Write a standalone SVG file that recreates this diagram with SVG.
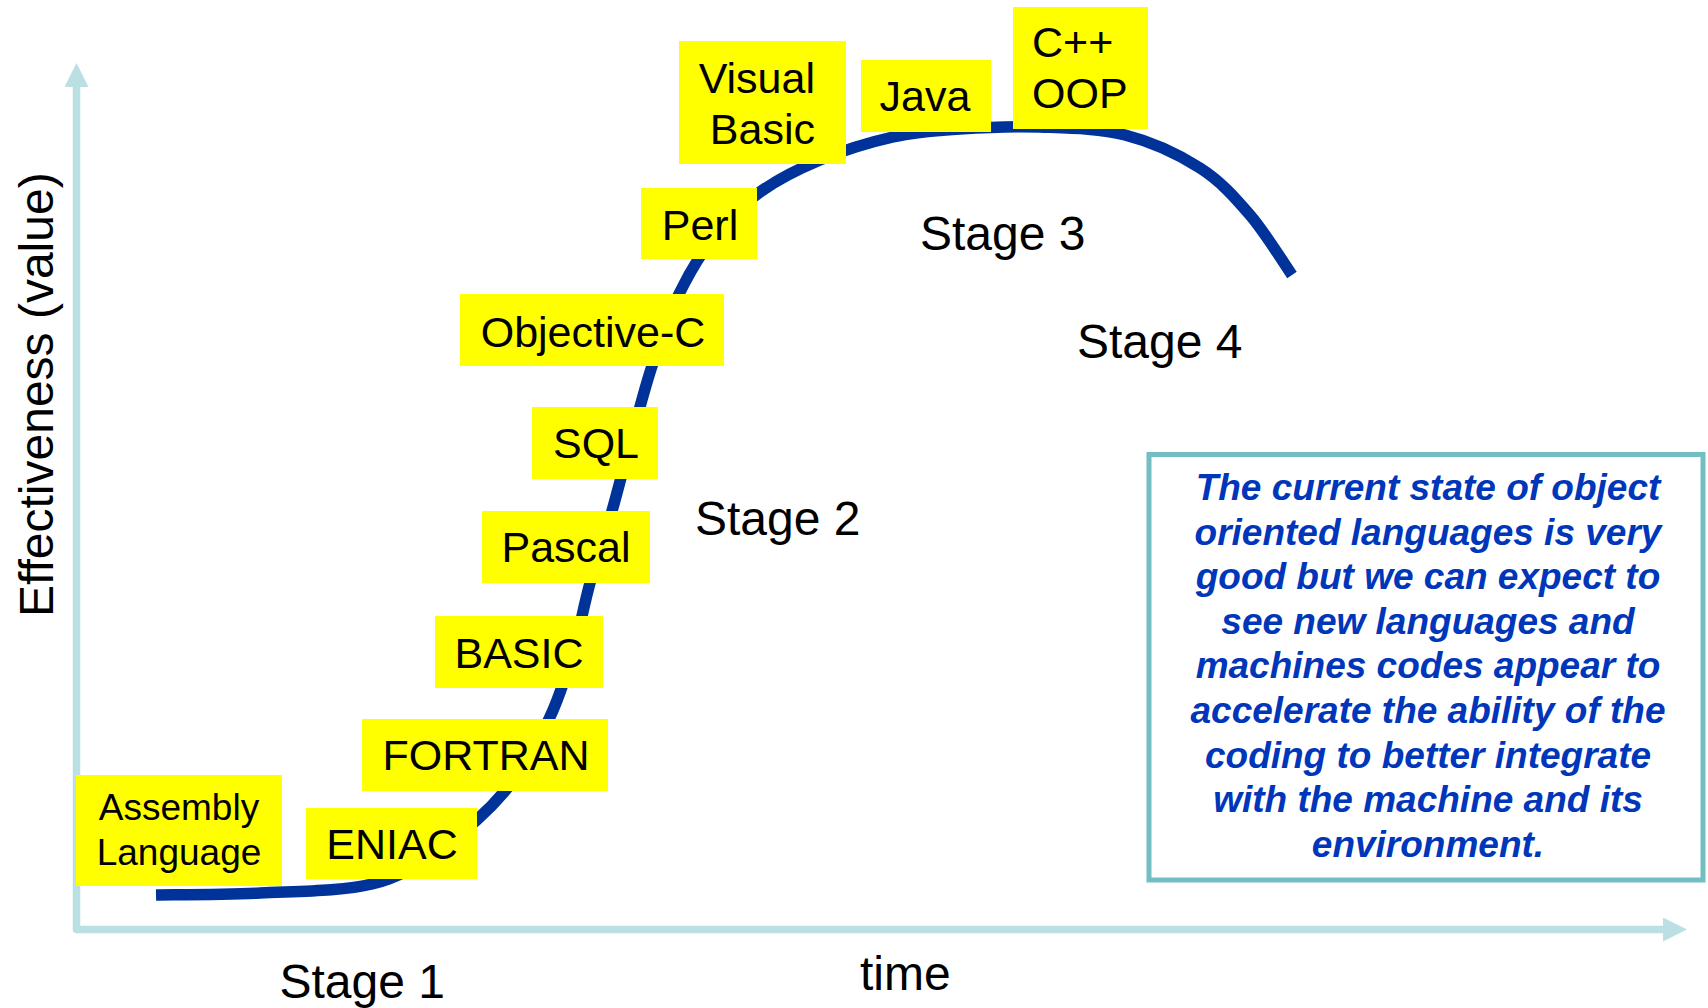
<svg xmlns="http://www.w3.org/2000/svg" width="1708" height="1008" viewBox="0 0 1708 1008">
<style>
.lbl{font-family:"Liberation Sans",Arial,sans-serif;font-size:43px;fill:#000}
.asm{font-size:37px}
.stage{font-family:"Liberation Sans",Arial,sans-serif;font-size:48px;fill:#000}
.box{fill:#FFFF00}
.note{font-family:"Liberation Sans",Arial,sans-serif;font-size:37px;font-weight:bold;font-style:italic;fill:#0036BA;text-anchor:middle}
</style>
<defs>
<marker id="ah" markerUnits="userSpaceOnUse" markerWidth="24" markerHeight="24" refX="0" refY="12" orient="auto-start-reverse">
<path d="M0,0 L24,12 L0,24 Z" fill="#BBE0E3"/>
</marker>
</defs>
<rect width="1708" height="1008" fill="#fff"/>
<g id="axes">
<polyline points="76.5,87 76.5,929.5 1663,929.5" fill="none" stroke="#BBE0E3" stroke-width="7.5" stroke-linejoin="round" marker-start="url(#ah)" marker-end="url(#ah)"/>
<text class="stage" transform="translate(53,617) rotate(-90)">Effectiveness (value)</text>
<text class="stage" x="860" y="990">time</text>
</g>
<g id="connectors">
<path d="M156,895 C173.3,894.7 224,894.8 260,893 C296,891.2 342,891.3 372,884 C402,876.7 417.8,864.5 440,849 C462.2,833.5 486.8,812.7 505,791 C523.2,769.3 537.7,742.2 549,719 C560.3,695.8 566.2,674.7 573,652 C579.8,629.3 583.5,606.5 590,583 C596.5,559.5 605.2,534.8 612,511 C618.8,487.2 624.3,464.2 631,440 C637.7,415.8 644,390.3 652,366 C660,341.7 668.3,316 679,294 C689.7,272 702.5,251 716,234 C729.5,217 742.7,204.3 760,192 C777.3,179.7 797.8,169.2 820,160 C842.2,150.8 869.7,142.2 893,137 C916.3,131.8 935.5,130.7 960,129 C984.5,127.3 1012.5,126 1040,127 C1067.5,128 1098.3,128.2 1125,135 C1151.7,141.8 1179.2,154.7 1200,168 C1220.8,181.3 1234.7,197.2 1250,215 C1265.3,232.8 1285,265 1292,275" fill="none" stroke="#003399" stroke-width="11.5"/>
</g>
<g id="stages">
<text class="stage" x="279.5" y="998">Stage 1</text>
<text class="stage" x="695" y="535">Stage 2</text>
<text class="stage" x="920" y="250">Stage 3</text>
<text class="stage" x="1077" y="358">Stage 4</text>
</g>
<g id="assembly"><rect class="box" x="76" y="775" width="206" height="111"/><text class="lbl asm" x="179" y="820" text-anchor="middle">Assembly</text><text class="lbl asm" x="179" y="865" text-anchor="middle">Language</text></g>
<g id="eniac"><rect class="box" x="306" y="808" width="171" height="71"/><text class="lbl" x="392" y="859" text-anchor="middle">ENIAC</text></g>
<g id="fortran"><rect class="box" x="362" y="719" width="246" height="72"/><text class="lbl" x="486" y="770" text-anchor="middle">FORTRAN</text></g>
<g id="basic"><rect class="box" x="435" y="616" width="168" height="72"/><text class="lbl" x="519" y="668" text-anchor="middle">BASIC</text></g>
<g id="pascal"><rect class="box" x="482" y="511" width="168" height="72"/><text class="lbl" x="566" y="562" text-anchor="middle">Pascal</text></g>
<g id="sql"><rect class="box" x="532" y="407" width="126" height="72"/><text class="lbl" x="596" y="458" text-anchor="middle">SQL</text></g>
<g id="objc"><rect class="box" x="460" y="294" width="264" height="72"/><text class="lbl" x="593" y="347" text-anchor="middle">Objective-C</text></g>
<g id="perl"><rect class="box" x="641" y="188" width="116" height="71"/><text class="lbl" x="700" y="240" text-anchor="middle">Perl</text></g>
<g id="vb"><rect class="box" x="679" y="41" width="167" height="123"/><text class="lbl" x="815" y="93" text-anchor="end">Visual</text><text class="lbl" x="815" y="144" text-anchor="end">Basic</text></g>
<g id="java"><rect class="box" x="861" y="60" width="130" height="72"/><text class="lbl" x="925" y="111" text-anchor="middle">Java</text></g>
<g id="cpp"><rect class="box" x="1013" y="7" width="135" height="122"/><text class="lbl" x="1032" y="57">C++</text><text class="lbl" x="1032" y="108">OOP</text></g>
<g id="note">
<rect x="1149" y="454.5" width="554" height="425.5" fill="#fff" stroke="#73BEC3" stroke-width="5"/>
<text class="note" x="1428" y="500">The current state of object</text>
<text class="note" x="1428" y="544.6">oriented languages is very</text>
<text class="note" x="1428" y="589.2">good but we can expect to</text>
<text class="note" x="1428" y="633.8">see new languages and</text>
<text class="note" x="1428" y="678.4">machines codes appear to</text>
<text class="note" x="1428" y="723">accelerate the ability of the</text>
<text class="note" x="1428" y="767.6">coding to better integrate</text>
<text class="note" x="1428" y="812.2">with the machine and its</text>
<text class="note" x="1428" y="856.8">environment.</text>
</g>
</svg>
